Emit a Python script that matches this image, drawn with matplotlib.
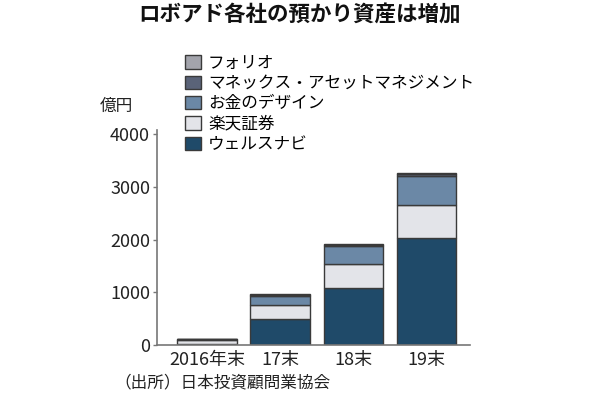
import numpy as np
import matplotlib
matplotlib.use("Agg")
import matplotlib.pyplot as plt
from matplotlib.patches import Patch

plt.rcParams['font.family'] = ['Noto Sans CJK JP', 'DejaVu Sans']

years = ['2016年末', '17末', '18末', '19末']
# 億円, bottom to top
wealthnavi = [20, 490, 1090, 2030]
rakuten = [75, 275, 455, 630]
okane = [10, 170, 325, 545]
monex = [12, 22, 35, 45]
folio = [5, 10, 15, 18]

series = ['ウェルスナビ', '楽天証券', 'お金のデザイン', 'マネックス・アセットマネジメント', 'フォリオ']
values = [wealthnavi, rakuten, okane, monex, folio]
colors = ['#1f4a69', '#e3e4e9', '#6b88a6', '#5a6378', '#a3a4ac']

fig = plt.figure(figsize=(6, 4), dpi=100)
ax = fig.add_axes([157/600, 55/400, 313/600, 215/400])

x = np.arange(len(years))
bottom = np.zeros(len(years))
for name, vals, c in zip(series, values, colors):
    ax.bar(x, vals, width=0.81, bottom=bottom, color=c, edgecolor='#3a3a3a',
           linewidth=1.0, label=name)
    bottom += np.array(vals)

ax.set_xlim(-0.685, 3.6)
ax.set_ylim(0, 4080)
ax.set_yticks([0, 1000, 2000, 3000, 4000])
ax.set_xticks(x)
ax.set_xticklabels(years)
for lab in ax.get_yticklabels() + ax.get_xticklabels():
    lab.set_fontsize(13)
    lab.set_fontstretch('condensed')
    lab.set_color('#222222')
ax.tick_params(axis='y', length=3, width=1, color='#777777', pad=2)
ax.tick_params(axis='x', length=0, pad=4)
for s in ['top', 'right']:
    ax.spines[s].set_visible(False)
for s in ['left', 'bottom']:
    ax.spines[s].set_color('#777777')
    ax.spines[s].set_linewidth(1.2)

handles = [Patch(facecolor=c, edgecolor='#3a3a3a', linewidth=1.0) for c in colors]
leg = fig.legend(handles[::-1], series[::-1], loc='upper left',
                 bbox_to_anchor=(178/600, 1 - 48/400), frameon=False,
                 fontsize=12, handlelength=0.95, handleheight=0.85,
                 handletextpad=0.45, labelspacing=0.2, borderaxespad=0)

fig.text(0.5, 1 - 15/400, 'ロボアド各社の預かり資産は増加', ha='center', va='center',
         fontsize=15.5, fontweight='bold', color='#111111')
fig.text(100/600, 1 - 106/400, '億円', ha='left', va='center', fontsize=12, color='#222222')
fig.text(114/600, 1 - 383/400, '（出所）日本投資顧問業協会', ha='left', va='center',
         fontsize=12, color='#222222')

fig.savefig('out.png', dpi=100, facecolor='white')
